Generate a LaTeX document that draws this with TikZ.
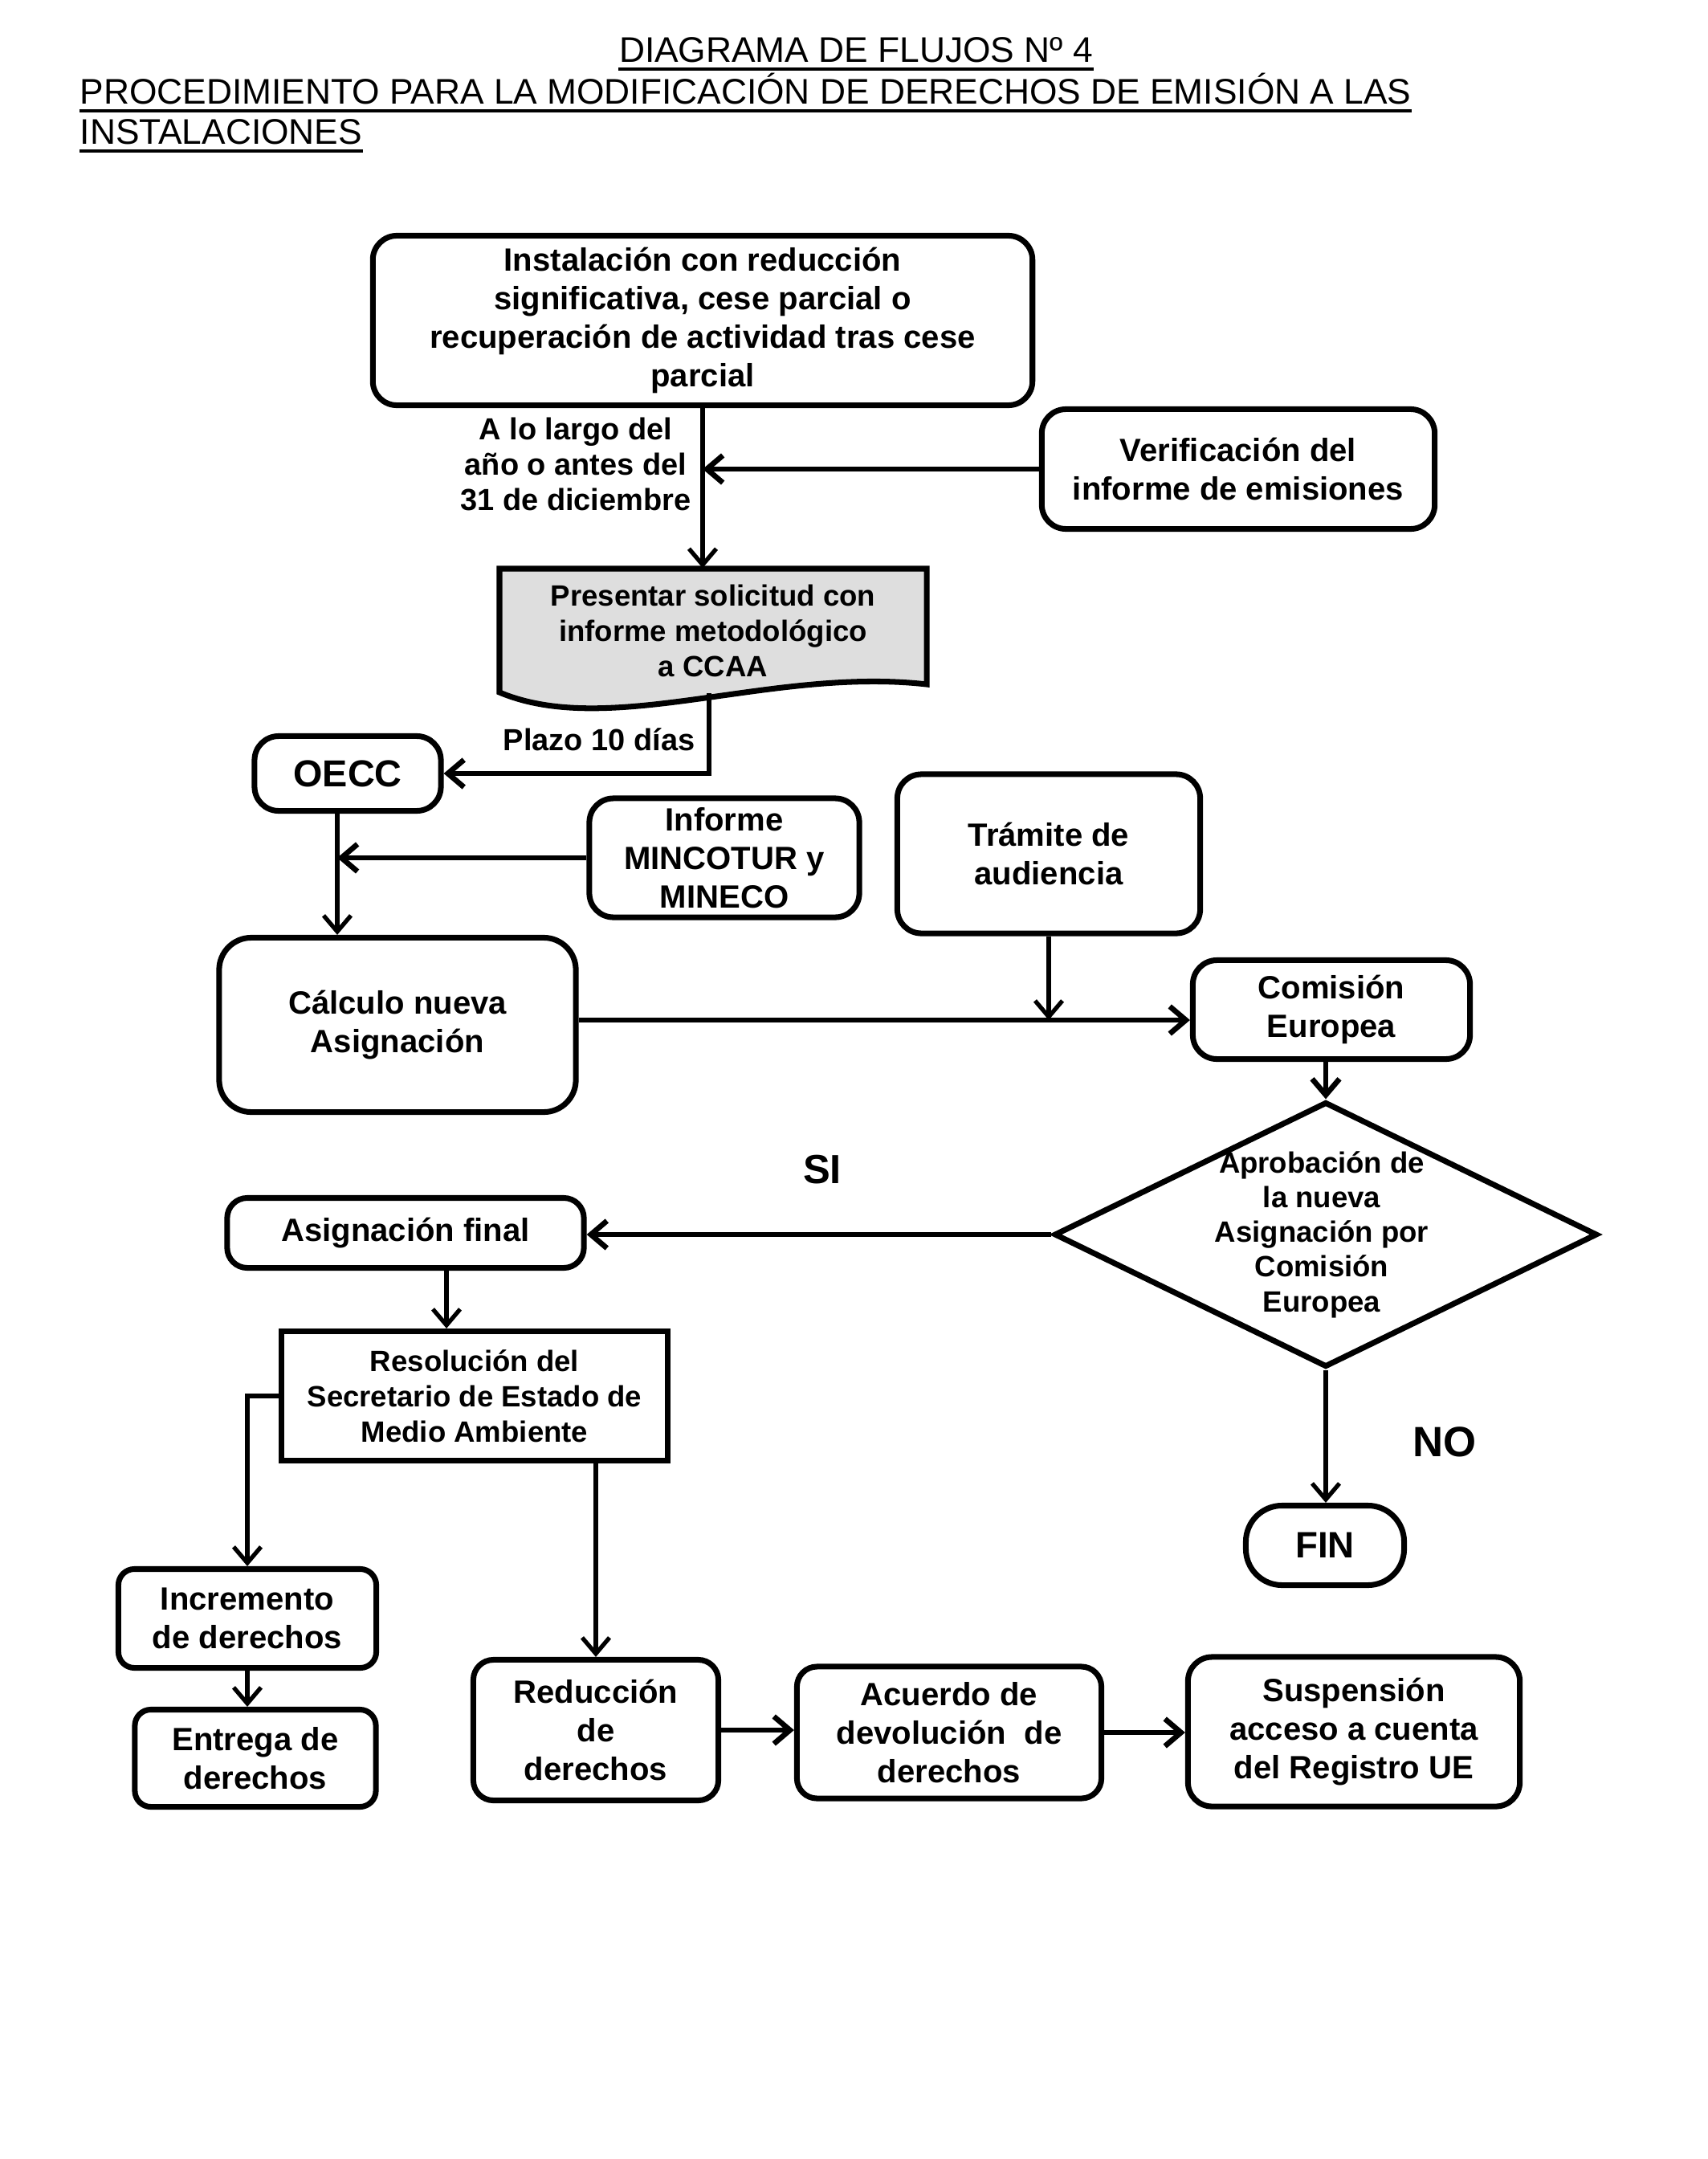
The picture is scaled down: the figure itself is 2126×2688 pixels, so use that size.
\documentclass[tikz,border=0pt]{standalone}
\usepackage{fontspec}
\setmainfont{Liberation Sans}
\usetikzlibrary{arrows.meta,shapes.geometric,calc}
\begin{document}
\begin{tikzpicture}[x=0.01cm,y=-0.01cm,
 box/.style={draw, line width=2pt, rounded corners=0.3cm, align=center, inner sep=0pt, font=\fontsize{11.4}{13.6}\selectfont\bfseries},
 sbox/.style={box, font=\fontsize{10.4}{12.5}\selectfont\bfseries},
 lbl/.style={align=center, inner sep=0pt, font=\fontsize{10.8}{12.6}\selectfont\bfseries},
 ttl/.style={inner sep=0pt, font=\fontsize{12.6}{15}\selectfont},
 uline/.style={line width=1.3pt},
 arr/.style={line width=1.9pt, -{Straight Barb[length=2mm,width=3.4mm]}},
 tarr/.style={arr, line width=1.5pt}]
\useasboundingbox (0,0) rectangle (2126,2688);

% title
\node[ttl, anchor=base] (t1) at (1066,78) {DIAGRAMA DE FLUJOS Nº 4};
\node[ttl, anchor=base west] (t2) at (99,130) {PROCEDIMIENTO PARA LA MODIFICACIÓN DE DERECHOS DE EMISIÓN A LAS};
\node[ttl, anchor=base west] (t3) at (99,180) {INSTALACIONES};
\draw[uline] ($(t1.base west)+(0,-0.08cm)$) -- ($(t1.base east)+(0,-0.08cm)$);
\draw[uline] ($(t2.base west)+(0,-0.08cm)$) -- ($(t2.base east)+(0,-0.08cm)$);
\draw[uline] ($(t3.base west)+(0,-0.08cm)$) -- ($(t3.base east)+(0,-0.08cm)$);

% nodes
\node[box, minimum width=8.21cm, minimum height=2.11cm] (top) at (875,399) {Instalación con reducción\\significativa, cese parcial o\\recuperación de actividad tras cese\\parcial};
\node[box, minimum width=4.89cm, minimum height=1.49cm] (ver) at (1542,584) {Verificación del\\informe de emisiones};
\node[lbl] (lab1) at (717,578) {A lo largo del\\año o antes del\\31 de diciembre};

\draw[line width=2pt, fill=black!13] (622,708) -- (1154,708) -- (1154,852) .. controls (960,830) and (760,920) .. (622,862) -- cycle;
\node[minimum width=5.32cm, minimum height=1.54cm, inner sep=0pt, align=center, font=\fontsize{10.4}{12.5}\selectfont\bfseries] (pres) at (888,785) {Presentar solicitud con\\informe metodológico\\a CCAA};
\node[lbl] (lab2) at (746,921) {Plazo 10 días};

\node[box, minimum width=2.32cm, minimum height=0.93cm, font=\fontsize{13.3}{15}\selectfont\bfseries] (oecc) at (433,963) {OECC};
\node[box, minimum width=3.36cm, minimum height=1.48cm] (inf) at (902,1068) {Informe\\MINCOTUR y\\MINECO};
\node[box, minimum width=3.77cm, minimum height=1.98cm] (tra) at (1306,1063) {Trámite de\\audiencia};
\node[box, minimum width=4.44cm, minimum height=2.17cm, rounded corners=0.4cm] (cna) at (495,1276) {Cálculo nueva\\Asignación};
\node[box, minimum width=3.45cm, minimum height=1.23cm] (ce) at (1658,1257) {Comisión\\Europea};
\node[diamond, draw, line width=2pt, minimum width=6.76cm, minimum height=3.30cm, inner sep=0pt] (dia) at (1651,1537) {};
\node[align=center, inner sep=0pt, font=\fontsize{10.4}{12.3}\selectfont\bfseries] (diat) at (1646,1537) {Aprobación de\\la nueva\\Asignación por\\Comisión\\Europea};
\node[box, minimum width=4.44cm, minimum height=0.87cm, rounded corners=0.25cm] (af) at (505,1535) {Asignación final};
\node[inner sep=0pt, font=\fontsize{14.4}{16}\selectfont\bfseries] (si) at (1024,1456) {SI};
\node[inner sep=0pt, font=\fontsize{15}{17}\selectfont\bfseries] (no) at (1799,1795) {NO};
\node[sbox, rounded corners=0pt, minimum width=4.81cm, minimum height=1.61cm] (res) at (591,1738) {Resolución del\\Secretario de Estado de\\Medio Ambiente};
\node[box, rounded corners=0.45cm, minimum width=1.97cm, minimum height=0.99cm, font=\fontsize{13}{15}\selectfont\bfseries] (fin) at (1650,1924) {FIN};
\node[box, rounded corners=0.2cm, minimum width=3.21cm, minimum height=1.23cm] (inc) at (308,2015) {Incremento\\de derechos};
\node[box, rounded corners=0.2cm, minimum width=3.00cm, minimum height=1.21cm] (ent) at (318,2189) {Entrega de\\derechos};
\node[box, rounded corners=0.25cm, minimum width=3.05cm, minimum height=1.75cm] (red) at (742,2154) {Reducción\\de\\derechos};
\node[box, rounded corners=0.25cm, minimum width=3.79cm, minimum height=1.64cm] (acu) at (1182,2157) {Acuerdo de\\devolución\ \ de\\derechos};
\node[box, rounded corners=0.3cm, minimum width=4.13cm, minimum height=1.86cm] (sus) at (1686,2156) {Suspensión\\acceso a cuenta\\del Registro UE};

% helper coordinates
\coordinate (oeccout) at ([xshift=-0.13cm]oecc.south);
\coordinate (presout) at ([xshift=-0.05cm]pres.south);
\coordinate (cein) at ([yshift=-0.13cm]ce.west);
\coordinate (afout) at ([xshift=0.51cm]af.south);

% connectors
\draw[tarr] (top.south) -- (top.south |- pres.north);
\draw[arr] (ver.west) -- (ver.west -| top.south);
\draw[arr] (presout) |- (oecc.east);
\draw[tarr] (oeccout) -- (oeccout |- cna.north);
\draw[arr] (inf.west) -- (inf.west -| oeccout);
\draw[arr] (cein -| cna.east) -- (cein);
\draw[tarr] (tra.south) -- (tra.south |- cein);
\draw[arr] (dia.north |- ce.south) -- (dia.north);
\draw[arr] (dia.west) -- (dia.west -| af.east);
\draw[tarr] (dia.south) -- (dia.south |- fin.north);
\draw[tarr] (afout) -- (afout |- res.north);
\draw[tarr] (res.west) -| (inc.north);
\draw[tarr] (inc.south) -- (inc.south |- ent.north);
\draw[tarr] (red.north |- res.south) -- (red.north);
\draw[arr] (red.east) -- (red.east -| acu.west);
\draw[arr] (acu.east) -- (acu.east -| sus.west);
\end{tikzpicture}
\end{document}
